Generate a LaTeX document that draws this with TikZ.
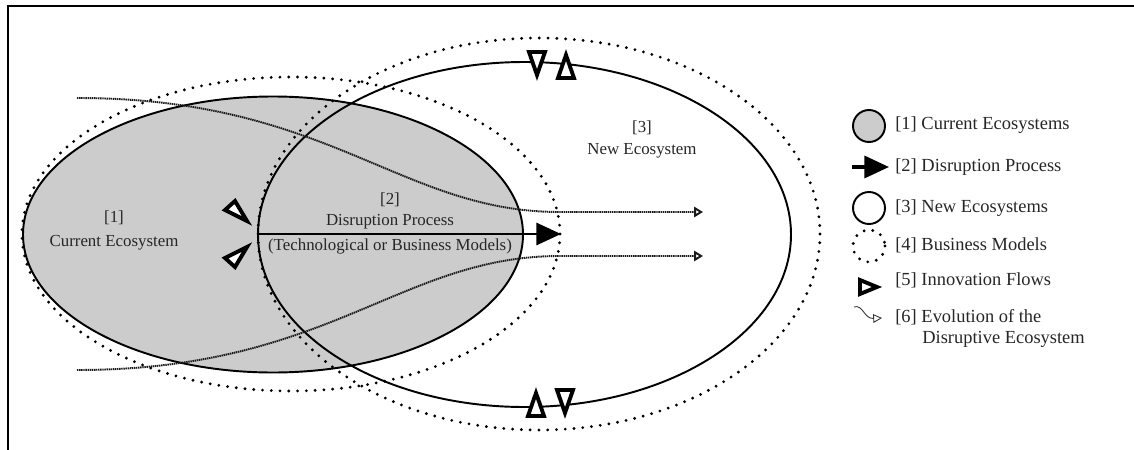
\documentclass[tikz,border=0pt]{standalone}
\usepackage{fontspec}
\setmainfont{Liberation Serif}
\usetikzlibrary{arrows.meta}
\tikzstyle{eco}=[line width=1.1pt]
\tikzstyle{model}=[line width=1.8pt, line cap=round, dash pattern=on 0pt off 5pt]
\tikzstyle{evo}=[line width=1.1pt, black!90, dash pattern=on 0.8pt off 0.4pt, -{Triangle[open, length=5pt, width=5.8pt]}]
\tikzstyle{disrupt}=[line width=1.7pt, -{Triangle[length=14pt, width=12.5pt]}]
\tikzstyle{flow}=[line width=2.2pt, fill=white]
\tikzstyle{lbl}=[inner sep=0, text=black!85, font=\fontsize{9.6}{11}\selectfont]
\tikzstyle{legend}=[inner sep=0, anchor=west, text=black!85, font=\fontsize{10.5}{12}\selectfont]

\begin{document}
\begin{tikzpicture}[x=0.02cm, y=-0.02cm]
\useasboundingbox (0,0) rectangle (1134,450);
% Frame
    \draw[line width=1.3pt] (8,452) -- (8,6) -- (1136,6);
% Ecosystems
    \fill[gray!40] (273,234.5) ellipse (250 and 138);
    \draw[eco] (273,234.5) ellipse (250 and 138);
    \draw[eco] (524.5,234.5) ellipse (266.5 and 172.5);
% Business models
    \draw[model] (291,234) ellipse (269 and 157);
    \draw[model] (539,234) ellipse (281 and 196);
% Evolution of the disruptive ecosystem
    \draw[evo] (77,98) .. controls (330,98) and (400,212) .. (560,212) -- (703,212);
    \draw[evo] (77,370) .. controls (330,370) and (400,256) .. (560,256) -- (703,256);
% Disruption process
    \draw[disrupt] (258,234) -- (561,234);
% Innovation flows
    \draw[flow] (225,210) -- (235,201) -- (247,221) -- cycle;
    \draw[flow] (225,258) -- (235,267) -- (247,247) -- cycle;
    \draw[flow] (529,52) -- (545,52) -- (537,75) -- cycle;
    \draw[flow] (558,78) -- (574,78) -- (566,55) -- cycle;
    \draw[flow] (528,416) -- (544,416) -- (536,393) -- cycle;
    \draw[flow] (557,390) -- (573,390) -- (565,413) -- cycle;
% Labels
    \node[lbl] (cur1) at (114,218) {[1]};
    \node[lbl] (cur2) at (114,243) {Current Ecosystem};
    \node[lbl] (dis1) at (390,200) {[2]};
    \node[lbl] (dis2) at (390,222) {Disruption Process};
    \node[lbl] (dis3) at (390,246) {(Technological or Business Models)};
    \node[lbl] (new1) at (642,128) {[3]};
    \node[lbl] (new2) at (642,151) {New Ecosystem};
% Legend
    \draw[eco, fill=gray!40] (869,126) circle (16);
    \draw[disrupt, line width=2pt] (852,167) -- (889,167);
    \draw[eco] (869,208) circle (16);
    \draw[model] (869,246) circle (16);
    \draw[flow] (860,280) -- (860,294) -- (877,287) -- cycle;
    \draw[line width=0.5pt, black!80, -{Triangle[open, length=5pt, width=5pt]}] (854,307) .. controls (863,304) and (864,319) .. (882,318);
    \node[legend] (key1) at (895,125) {[1] Current Ecosystems};
    \node[legend] (key2) at (895,167) {[2] Disruption Process};
    \node[legend] (key3) at (895,208) {[3] New Ecosystems};
    \node[legend] (key4) at (895,245) {[4] Business Models};
    \node[legend] (key5) at (895,280) {[5] Innovation Flows};
    \node[legend] (key6) at (895,317) {[6] Evolution of the};
    \node[legend] (key6b) at (922,339) {Disruptive Ecosystem};
\end{tikzpicture}
\end{document}
